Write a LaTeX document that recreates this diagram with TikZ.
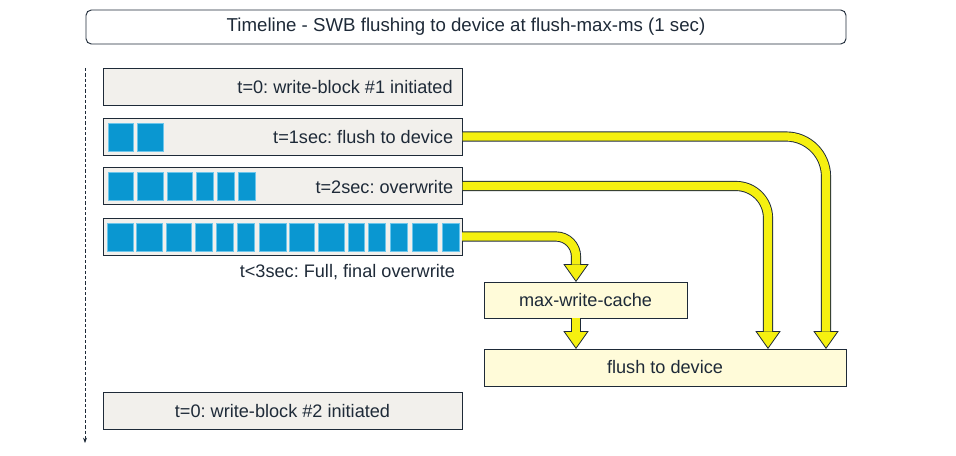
\documentclass[tikz,border=0pt]{standalone}
\usepackage{fontspec}
\setmainfont{Liberation Sans}
\frenchspacing
\usetikzlibrary{arrows.meta}
\definecolor{boxfill}{HTML}{F2F0EC}
\definecolor{edge}{HTML}{1E2A38}
\definecolor{blk}{HTML}{0A97D1}
\definecolor{blkedge}{HTML}{6CC6EC}
\definecolor{yel}{HTML}{F5F010}
\definecolor{lyel}{HTML}{FFFBD9}
\begin{document}
\begin{tikzpicture}[x=0.75pt,y=-0.75pt,
  every node/.style={inner sep=0pt,outer sep=0pt,text=edge,font=\fontsize{13.6}{16}\selectfont},
  stage/.style={draw=edge,fill=boxfill,line width=0.7pt,minimum width=269.25pt,minimum height=27.75pt},
  cache/.style={draw=edge,fill=lyel,line width=0.7pt},
  blockcell/.style={fill=blk,draw=blkedge,line width=0.6pt},
  blockarrow/.style={line width=7.6pt,draw=edge,
     -{Triangle[length=13.5pt,width=19pt,fill=yel,line width=0.6pt]},
     postaction={draw=yel,line width=6.2pt,shorten >=13pt,-}},
]
\useasboundingbox (0,0) rectangle (956,456);
% title
\node[draw=edge,rounded corners=4pt,line width=0.7pt,minimum width=570pt,minimum height=25.5pt,font=\fontsize{14}{16}\selectfont] (title) at (466,27) {Timeline - SWB flushing to device at flush-max-ms (1 sec)};
% timeline
\coordinate (tl0) at (85,68);
\coordinate (tl1) at (85,443);
\draw[edge,dashed,line width=0.5pt,dash pattern=on 2.5pt off 1.5pt,-{Stealth[length=4pt,width=3pt]}] (tl0) -- (tl1);
% stage boxes
\node[stage] (b1) at (282.5,86.5) {};
\node[stage] (b2) at (283,136.5) {};
\node[stage] (b3) at (283,186) {};
\node[stage] (b4) at (282.5,236.5) {};
\node[stage] (b5) at (282.5,411) {t=0: write-block \#2 initiated};
\node[anchor=east] (l1) at ([xshift=-7pt,yshift=-0.75pt]b1.east) {t=0: write-block \#1 initiated};
\node[anchor=east] (l2) at ([xshift=-7pt,yshift=-0.75pt]b2.east) {t=1sec: flush to device};
\node[anchor=east] (l3) at ([xshift=-7pt,yshift=-0.75pt]b3.east) {t=2sec: overwrite};
\node[anchor=east] (l4) at (455,272) {t<3sec: Full, final overwrite};
% blocks
\foreach \a/\b in {108/133,137/163}
  \draw[blockcell] (\a,123) rectangle (\b,151);
\foreach \a/\b in {108/133,137/163,167/192,196/213,217/234,238/255}
  \draw[blockcell] (\a,172) rectangle (\b,200);
\foreach \a/\b in {107/133,136/162,166/191,195/212,216/233,237/254,259/286,289/314,318/344,348/364,368/385,390/407,412/437,442/459}
  \draw[blockcell] (\a,223) rectangle (\b,251);
% cache boxes
\node[cache,minimum width=152.25pt,minimum height=27pt] (mwc) at (585.5,300) {max-write-cache};
\node[cache,minimum width=271.5pt,minimum height=27.75pt] (fd) at (665,367.5) {flush to device};
% arrow endpoints
\coordinate (in1) at (826,349);
\coordinate (in2) at (768,349);
\coordinate (in3) at (576,282);
% arrows
\draw[blockarrow,rounded corners=30pt] (b2.east) -| (in1);
\draw[blockarrow,rounded corners=24pt] (b3.east) -| (in2);
\draw[blockarrow,rounded corners=15pt] (b4.east) -| (in3);
\draw[blockarrow] (mwc.south -| in3) -- (fd.north -| in3);
\end{tikzpicture}
\end{document}
